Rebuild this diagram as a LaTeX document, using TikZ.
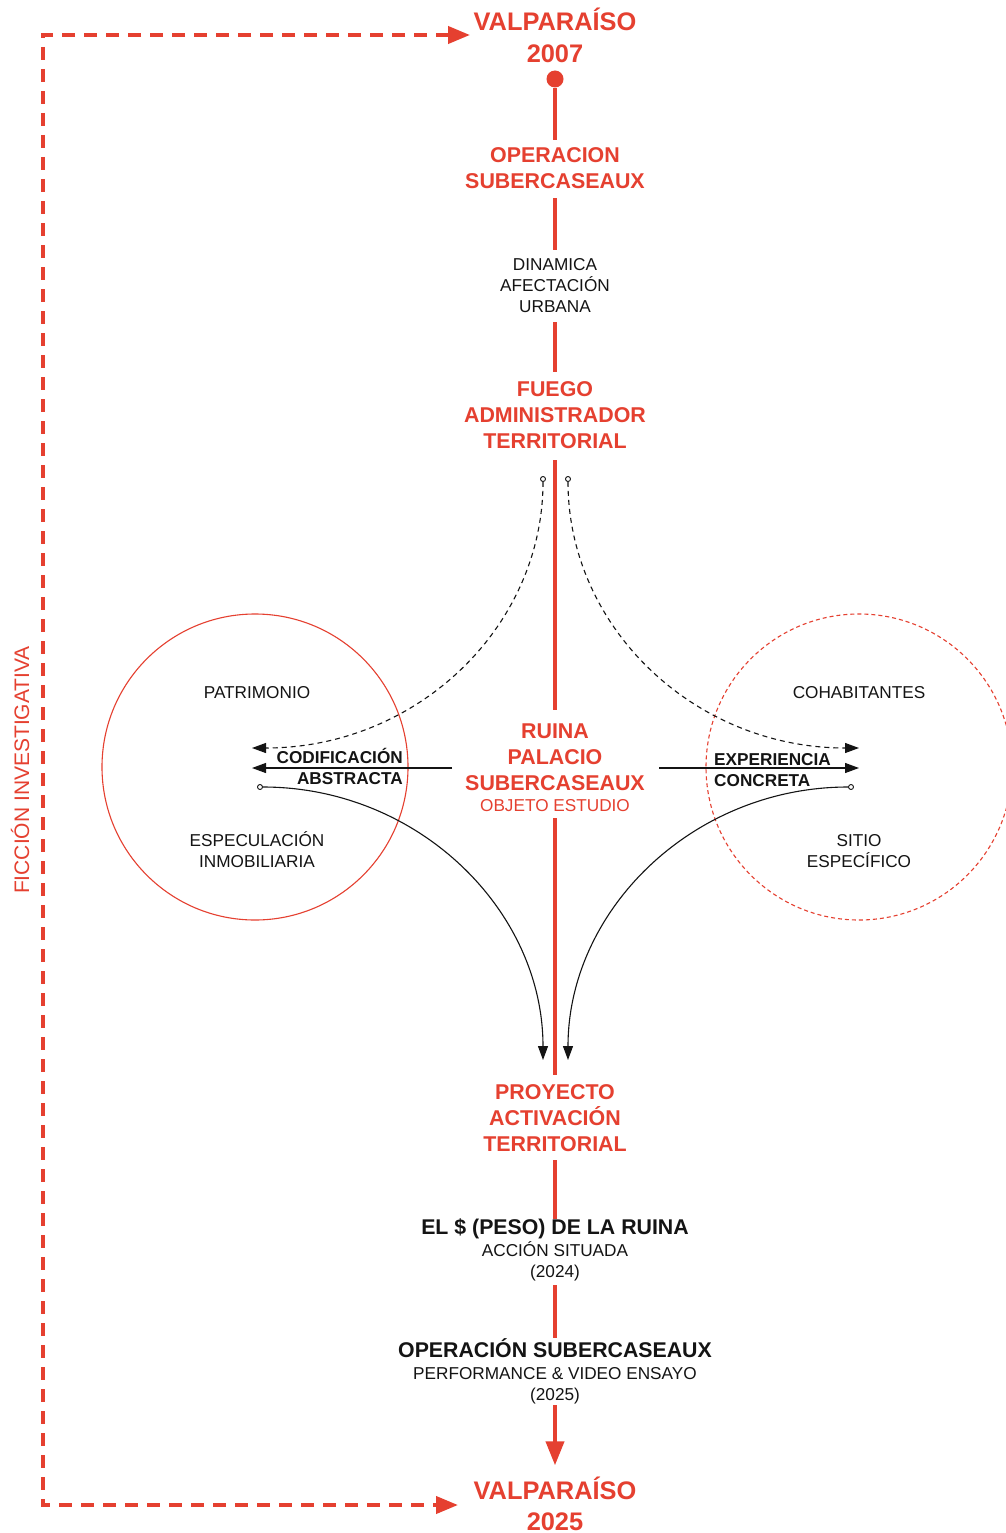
\documentclass[tikz,border=0pt]{standalone}
\usepackage{fontspec}
\setmainfont{Liberation Sans}
\usetikzlibrary{arrows.meta}
\definecolor{rojo}{RGB}{229,64,48}
\definecolor{tinta}{RGB}{20,20,20}
\begin{document}
\begin{tikzpicture}[x=1pt,y=-1pt,
  txt/.style={inner sep=0pt, anchor=base, text=tinta},
  rtitle/.style={txt, text=rojo, font=\fontsize{21.4}{26}\selectfont\bfseries},
  rhuge/.style={txt, text=rojo, font=\fontsize{25.4}{30}\selectfont\bfseries},
  lbl/.style={txt, font=\fontsize{17.2}{21}\selectfont},
  lblb/.style={txt, font=\fontsize{17.2}{21}\selectfont\bfseries},
  btitle/.style={txt, font=\fontsize{21.3}{26}\selectfont\bfseries},
  spine/.style={draw=rojo, line width=4pt},
  ficline/.style={draw=rojo, line width=4pt, dash pattern=on 13pt off 9pt},
  bigtip/.style={{Triangle[length=22pt,width=17pt]}-{Triangle[length=22pt,width=17pt]}},
  conn/.style={draw=tinta, line width=1.1pt},
  dconn/.style={conn, dash pattern=on 5pt off 4pt},
  tip/.style={-{Triangle[length=14pt,width=10pt]}},
  opend/.style={circle, draw=tinta, fill=white, line width=0.9pt, minimum size=5pt, inner sep=0pt},
  zone/.style={circle, draw=rojo, line width=1.1pt, minimum size=306pt, inner sep=0pt},
]
\fill[white] (0,0) rectangle (1005,1533);
\useasboundingbox (0,0) rectangle (1005,1533);

% zones
\node[zone] (lc) at (255,767) {};
\node[zone, dash pattern=on 4pt off 3pt] (rc) at (859,767) {};

% spine texts
\node[rhuge] (v07a) at (555,31) {VALPARAÍSO};
\node[rhuge] (v07b) at (555,63) {2007};
\node[circle, fill=rojo, minimum size=17pt, inner sep=0pt] (dot) at (555,79) {};
\node[rtitle] (op1) at (555,162.5) {OPERACION};
\node[rtitle] (op2) at (555,188.5) {SUBERCASEAUX};
\node[lbl] (din1) at (555,270) {DINAMICA};
\node[lbl] (din2) at (555,291) {AFECTACIÓN};
\node[lbl] (din3) at (555,312) {URBANA};
\node[rtitle] (fu1) at (555,396.5) {FUEGO};
\node[rtitle] (fu2) at (555,422.5) {ADMINISTRADOR};
\node[rtitle] (fu3) at (555,448.5) {TERRITORIAL};
\node[rtitle] (ru1) at (555,738.5) {RUINA};
\node[rtitle] (ru2) at (555,764.5) {PALACIO};
\node[rtitle] (ru3) at (555,790.5) {SUBERCASEAUX};
\node[lbl, text=rojo] (obj) at (555,811) {OBJETO ESTUDIO};
\node[rtitle] (pr1) at (555,1099.5) {PROYECTO};
\node[rtitle] (pr2) at (555,1125.5) {ACTIVACIÓN};
\node[rtitle] (pr3) at (555,1151.5) {TERRITORIAL};
\node[btitle] (pe1) at (555,1234.5) {EL \$ (PESO) DE LA RUINA};
\node[lbl] (pe2) at (555,1256) {ACCIÓN SITUADA};
\node[lbl] (pe3) at (555,1277) {(2024)};
\node[btitle] (oo1) at (555,1357.5) {OPERACIÓN SUBERCASEAUX};
\node[lbl] (oo2) at (555,1379) {PERFORMANCE \& VIDEO ENSAYO};
\node[lbl] (oo3) at (555,1400) {(2025)};
\node[rhuge] (v25a) at (555,1499) {VALPARAÍSO};
\node[rhuge] (v25b) at (555,1530) {2025};

% side labels
\node[lbl] (pat) at (257,698) {PATRIMONIO};
\node[lbl] (esp1) at (257,846) {ESPECULACIÓN};
\node[lbl] (esp2) at (257,867) {INMOBILIARIA};
\node[lbl] (coh) at (859,698) {COHABITANTES};
\node[lbl] (sit1) at (859,846) {SITIO};
\node[lbl] (sit2) at (859,867) {ESPECÍFICO};
\node[lblb, anchor=base east] (cod1) at (403,763) {CODIFICACIÓN};
\node[lblb, anchor=base east] (cod2) at (403,784) {ABSTRACTA};
\node[lblb, anchor=base west] (exp1) at (714,765) {EXPERIENCIA};
\node[lblb, anchor=base west] (exp2) at (714,786) {CONCRETA};
\node[txt, text=rojo, font=\fontsize{21}{24}\selectfont, rotate=90] (fic) at (29,770) {FICCIÓN INVESTIGATIVA};

% spine
\draw[spine, shorten >=7pt] (dot) -- (op1);
\draw[spine, shorten <=9.5pt, shorten >=8pt] (op2) -- (din1);
\draw[spine, shorten <=10pt, shorten >=9.5pt] (din3) -- (fu1);
\draw[spine, shorten <=11.5pt, shorten >=13.5pt] (fu3) -- (ru1);
\draw[spine, shorten <=7pt, shorten >=9.5pt] (obj) -- (pr1);
\draw[spine, shorten <=8.5pt] (pr3) -- (pe1);
\draw[spine, shorten <=4.5pt] (pe3) -- (oo1);
\draw[spine, shorten <=1.5pt, shorten >=11pt, -{Triangle[length=24pt,width=18pt]}] (oo3) -- (v25a);

% fiction frame
\coordinate (ftt) at (470,35);
\coordinate (ftl) at (43,35);
\coordinate (fbl) at (43,1505);
\coordinate (fbt) at (458,1505);
\draw[ficline, bigtip] (ftt) -- (ftl) -- (fbl) -- (fbt);

% horizontal arrows
\coordinate (la0) at (452,768);
\coordinate (la1) at (252,768);
\coordinate (ra0) at (659,768);
\coordinate (ra1) at (859,768);
\draw[conn, tip] (la0) -- (la1);
\draw[conn, tip] (ra0) -- (ra1);

% dashed curves
\node[opend] (sd1) at (543,479) {};
\node[opend] (sd2) at (568,479) {};
\coordinate (td1) at (252,748);
\coordinate (td2) at (859,748);
\draw[dconn, tip] (sd1) .. controls (543,627) and (417,748) .. (td1);
\draw[dconn, tip] (sd2) .. controls (568,627) and (694,748) .. (td2);

% solid curves
\node[opend] (ss1) at (260,787) {};
\node[opend] (ss2) at (851,787) {};
\coordinate (ts1) at (543,1060);
\coordinate (ts2) at (568,1060);
\draw[conn, tip] (ss1) .. controls (418,787) and (543,910) .. (ts1);
\draw[conn, tip] (ss2) .. controls (693,787) and (568,910) .. (ts2);
\end{tikzpicture}
\end{document}
